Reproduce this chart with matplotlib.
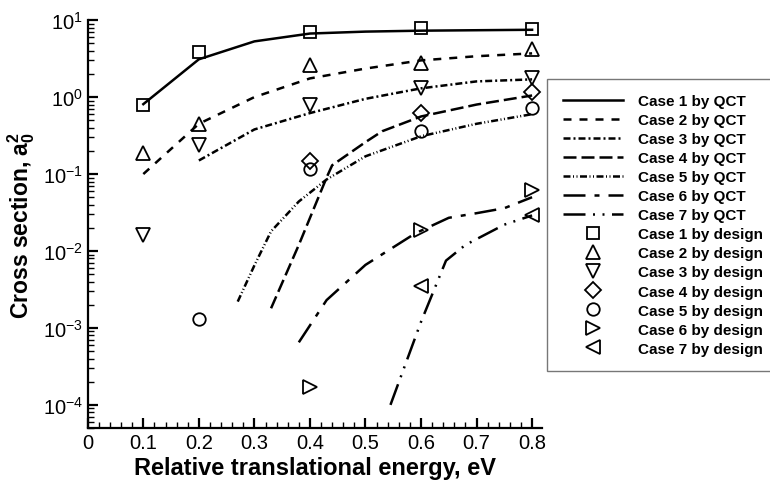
import matplotlib.pyplot as plt
import matplotlib as mb
from matplotlib.ticker import LogLocator, LogFormatterMathtext, MultipleLocator
import numpy as np

font = 14
mb.rcParams["font.family"] = ["Liberation Sans", "DejaVu Sans"]
mb.rcParams["font.size"] = font
mb.rcParams["mathtext.fontset"] = "custom"
mb.rcParams["mathtext.rm"] = "Liberation Sans"
mb.rcParams["mathtext.bf"] = "Liberation Sans:bold"
mb.rcParams["mathtext.default"] = "regular"

# QCT curves
qctX = {
    1: [0.1, 0.2, 0.3, 0.4, 0.5, 0.6, 0.7, 0.8],
    2: [0.1, 0.2, 0.3, 0.4, 0.5, 0.6, 0.7, 0.8],
    3: [0.2, 0.3, 0.4, 0.5, 0.6, 0.7, 0.8],
    4: [0.33, 0.38, 0.43, 0.44, 0.5, 0.53, 0.6, 0.7, 0.8],
    5: [0.27, 0.3, 0.33, 0.38, 0.43, 0.5, 0.6, 0.7, 0.8],
    6: [0.38, 0.43, 0.5, 0.59, 0.65, 0.7, 0.75, 0.8],
    7: [0.545, 0.6, 0.645, 0.68, 0.75, 0.8],
}
qctY = {
    1: [0.81, 3.1, 5.3, 6.7, 7.1, 7.3, 7.4, 7.5],
    2: [0.10, 0.45, 1.0, 1.75, 2.35, 3.0, 3.4, 3.7],
    3: [0.15, 0.38, 0.62, 0.95, 1.3, 1.6, 1.7],
    4: [0.0018, 0.012, 0.09, 0.13, 0.26, 0.36, 0.56, 0.8, 1.05],
    5: [0.0022, 0.0065, 0.018, 0.044, 0.085, 0.17, 0.31, 0.45, 0.6],
    6: [0.00065, 0.0023, 0.0066, 0.017, 0.027, 0.031, 0.036, 0.05],
    7: [0.0001, 0.0012, 0.0075, 0.012, 0.022, 0.029],
}

# design points
designX = {
    1: [0.1, 0.2, 0.4, 0.6, 0.8],
    2: [0.1, 0.2, 0.4, 0.6, 0.8],
    3: [0.1, 0.2, 0.4, 0.6, 0.8],
    4: [0.4, 0.6, 0.8],
    5: [0.2, 0.4, 0.6, 0.8],
    6: [0.4, 0.6, 0.8],
    7: [0.6, 0.8],
}
designY = {
    1: [0.8, 3.8, 7.0, 7.8, 7.6],
    2: [0.19, 0.45, 2.6, 2.8, 4.2],
    3: [0.016, 0.24, 0.78, 1.3, 1.75],
    4: [0.15, 0.62, 1.15],
    5: [0.0013, 0.115, 0.36, 0.72],
    6: [0.00017, 0.019, 0.062],
    7: [0.0035, 0.029],
}

styles = {
    1: "-",
    2: (0, (3.2, 3.2)),
    3: (0, (2.8, 1.2, 0.8, 1.2)),
    4: (0, (5.2, 2.0)),
    5: (0, (2.8, 1.0, 0.4, 1.0, 0.4, 1.0)),
    6: (0, (8.8, 3.6, 2.0, 3.6)),
    7: (0, (8.8, 3.0, 0.8, 3.0, 0.8, 3.0)),
}
markers = {1: "s", 2: "^", 3: "v", 4: "D", 5: "o", 6: ">", 7: "<"}
msize = {1: 9, 2: 9.5, 3: 9.5, 4: 8, 5: 9, 6: 9.5, 7: 9.5}

fig = plt.figure(figsize=(7.7, 4.81), dpi=100)
ax = fig.add_axes([0.114, 0.108, 0.59, 0.848])

for c in range(1, 8):
    ax.plot(qctX[c], qctY[c], linestyle=styles[c], color="black", lw=1.8,
            label=f"Case {c} by QCT")
for c in range(1, 8):
    ax.plot(designX[c], designY[c], markers[c], mfc="none", mec="black",
            ms=msize[c], mew=1.3, label=f"Case {c} by design")

ax.set_yscale("log")
ax.set_xlim(0, 0.818)
ax.set_ylim(5e-5, 10)
ax.xaxis.set_major_locator(MultipleLocator(0.1))
ax.xaxis.set_minor_locator(MultipleLocator(0.02))
ax.xaxis.set_major_formatter(plt.FuncFormatter(lambda v, p: "0" if abs(v) < 1e-9 else f"{v:g}"))
ax.yaxis.set_major_locator(LogLocator(base=10, numticks=10))
ax.yaxis.set_minor_locator(LogLocator(base=10, subs=np.arange(2, 10), numticks=10))
ax.yaxis.set_major_formatter(LogFormatterMathtext())

for s in ["top", "right"]:
    ax.spines[s].set_visible(False)
for s in ["left", "bottom"]:
    ax.spines[s].set_linewidth(1.6)
ax.tick_params(which="major", direction="in", length=7, width=1.6, labelsize=14.5)
ax.tick_params(which="minor", direction="in", length=4, width=1.0)

ax.set_xlabel("Relative translational energy, eV", fontsize=17, fontweight="bold",
              labelpad=3)
ax.set_ylabel(r"Cross section, $\mathbf{a_0^2}$", fontsize=16.5, fontweight="bold",
              labelpad=4)

leg = ax.legend(loc="upper left", bbox_to_anchor=(0.711, 0.834), bbox_transform=fig.transFigure,
                prop={"weight": "bold", "size": 11}, frameon=True, fancybox=False,
                handlelength=3.95, handletextpad=1.0, labelspacing=0.33, borderpad=1.0,
                borderaxespad=0)
leg.get_frame().set_edgecolor("#555555")
leg.get_frame().set_linewidth(1.0)

fig.savefig("out.png", dpi=100)
